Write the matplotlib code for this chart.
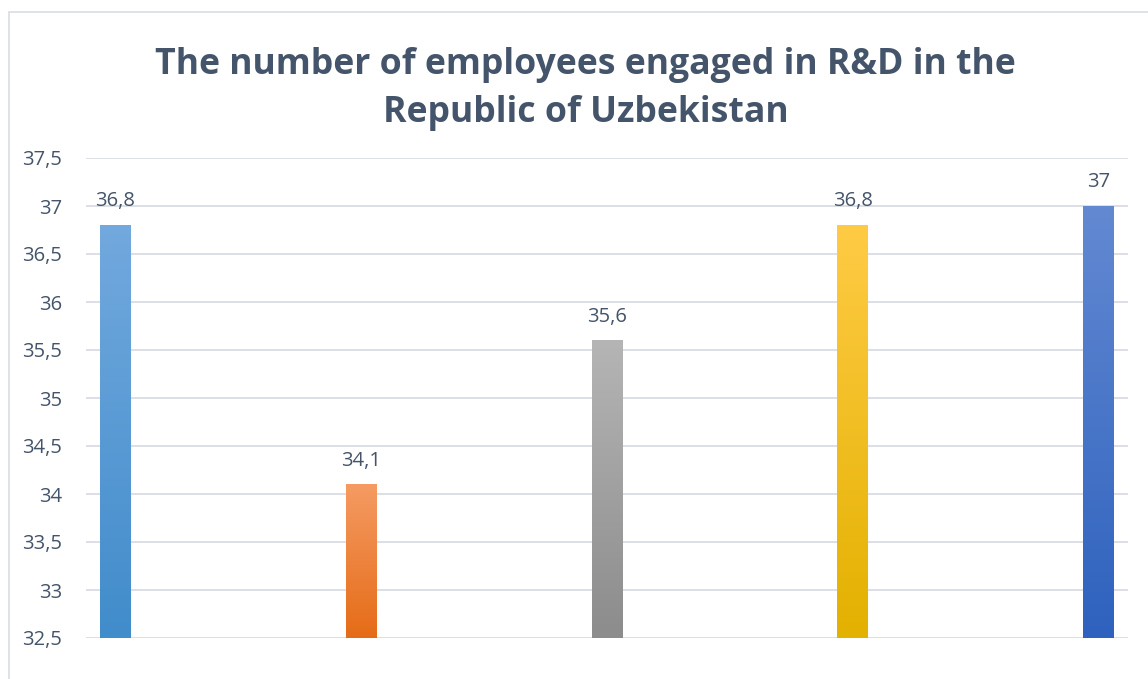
import numpy as np
import matplotlib
matplotlib.use('Agg')
import matplotlib.pyplot as plt
from matplotlib.colors import LinearSegmentedColormap
from matplotlib.patches import Rectangle

# chart data
values = [36.8, 34.1, 35.6, 36.8, 37.0]
labels = ['36,8', '34,1', '35,6', '36,8', '37']
# gradient colours (top, bottom) for each bar
bar_colors = [('#72A9DE', '#418CCB'),
              ('#F59B63', '#E56C17'),
              ('#B5B5B5', '#8C8C8C'),
              ('#FFCB45', '#E3B100'),
              ('#6389D2', '#2E62BE')]
yticks = [32.5, 33, 33.5, 34, 34.5, 35, 35.5, 36, 36.5, 37, 37.5]

text_color = '#44546A'
plt.rcParams['font.family'] = ['Open Sans', 'DejaVu Sans']

fig = plt.figure(figsize=(11.48, 6.79), dpi=100)
ax = fig.add_axes([86 / 1148, 1 - 638 / 679, (1128 - 86) / 1148, (638 - 158) / 679])

# chart border (Excel style frame)
fig.patches.append(Rectangle((9 / 1148, -0.05), 1.2, 1 - 12 / 679 + 0.05,
                             transform=fig.transFigure, fill=False,
                             edgecolor='#D9DDE3', linewidth=1.2))

width = 0.126
x = np.arange(len(values))
ymin = 32.5
for i, v in enumerate(values):
    bar = ax.bar(x[i], v - ymin, width, bottom=ymin, color='none', zorder=3)[0]
    cmap = LinearSegmentedColormap.from_list('g', [bar_colors[i][1], bar_colors[i][0]])
    grad = np.linspace(0, 1, 256).reshape(-1, 1)
    im = ax.imshow(grad, cmap=cmap, origin='lower', aspect='auto',
                   extent=(x[i] - width / 2, x[i] + width / 2, ymin, v), zorder=3)
    im.set_clip_path(bar)
    ax.annotate(labels[i], xy=(x[i], v), xytext=(0, 10), textcoords='offset points',
                ha='center', va='bottom', fontsize=14.5, color=text_color)

ax.set_xlim(-0.12, 4.12)
ax.set_ylim(32.5, 37.5)
ax.set_yticks(yticks)
ax.set_yticklabels([('%g' % t).replace('.', ',') for t in yticks])
ax.tick_params(axis='y', length=0, pad=17, labelsize=14.5, labelcolor=text_color)
ax.set_xticks([])
ax.yaxis.grid(True, color='#D9DDE3', linewidth=1.3, zorder=0)
ax.set_axisbelow(True)
for s in ax.spines.values():
    s.set_visible(False)

fig.text(585 / 1148, 1 - 65 / 679, 'The number of employees engaged in R&D in the',
         ha='center', va='center', fontsize=25.7, fontweight='bold', color=text_color)
fig.text(586 / 1148, 1 - 113 / 679, 'Republic of Uzbekistan',
         ha='center', va='center', fontsize=25.7, fontweight='bold', color=text_color)

fig.savefig('out.png', dpi=100)
